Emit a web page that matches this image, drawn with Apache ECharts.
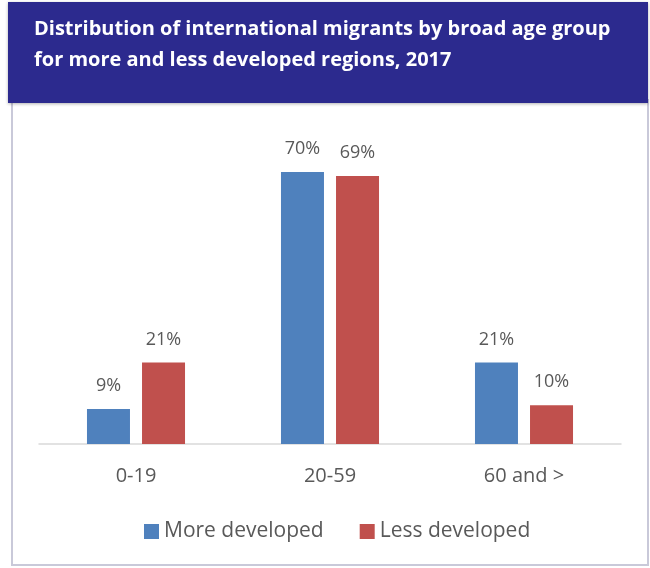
<!DOCTYPE html>
<html><head><meta charset="utf-8">
<script src="https://cdn.jsdelivr.net/npm/echarts@6/dist/echarts.min.js"></script>
<style>html,body{margin:0;padding:0;background:#fff}#c{width:650px;height:568px}</style>
</head><body><div id="c"></div>
<script>
const categories = ['0-19', '20-59', '60 and >'];
const moreDeveloped = [9, 70, 21];
const lessDeveloped = [21, 69, 10];
const seriesNames = ['More developed', 'Less developed'];
const titleText = 'Distribution of international migrants by broad age group\nfor more and less developed regions, 2017';

const chart = echarts.init(document.getElementById('c'));
const font = 'Open Sans';
const lbl = {show: true, position: 'top', distance: 14, color: '#595959', fontSize: 18, fontFamily: font, formatter: p => p.value + '%'};
chart.setOption({
  animation: false,
  graphic: [
    {type: 'rect', z: -1, shape: {x: 12, y: 100, width: 636, height: 465}, style: {fill: '#fff', stroke: '#c9c9d9', lineWidth: 2}},
    {type: 'rect', shape: {x: 8, y: 2, width: 640, height: 101}, style: {fill: '#2c2a8e', shadowBlur: 3, shadowColor: 'rgba(0,0,0,0.3)', shadowOffsetY: 1}},
    {type: 'text', left: 34, top: 14, style: {text: titleText, fill: '#fff', font: 'bold 20px "Open Sans"', lineHeight: 31}}
  ],
  legend: {
    top: 516, left: 139, itemWidth: 15, itemHeight: 15, itemGap: 36,
    icon: 'rect',
    textStyle: {color: '#595959', fontSize: 21, fontFamily: font},
    data: seriesNames
  },
  grid: {left: 39, right: 29, top: 172, bottom: 124},
  xAxis: {
    type: 'category', data: categories,
    axisLine: {lineStyle: {color: '#d9d9d9', width: 1.5}},
    axisTick: {show: false},
    axisLabel: {color: '#595959', fontSize: 20, fontFamily: font, margin: 22}
  },
  yAxis: {type: 'value', min: 0, max: 70, show: false, splitLine: {show: false}},
  series: [
    {name: seriesNames[0], type: 'bar', data: moreDeveloped, barWidth: 43, barGap: '28%', itemStyle: {color: '#4f81bd'}, label: lbl},
    {name: seriesNames[1], type: 'bar', data: lessDeveloped, barWidth: 43, itemStyle: {color: '#c0504d'}, label: lbl}
  ]
});
</script></body></html>
